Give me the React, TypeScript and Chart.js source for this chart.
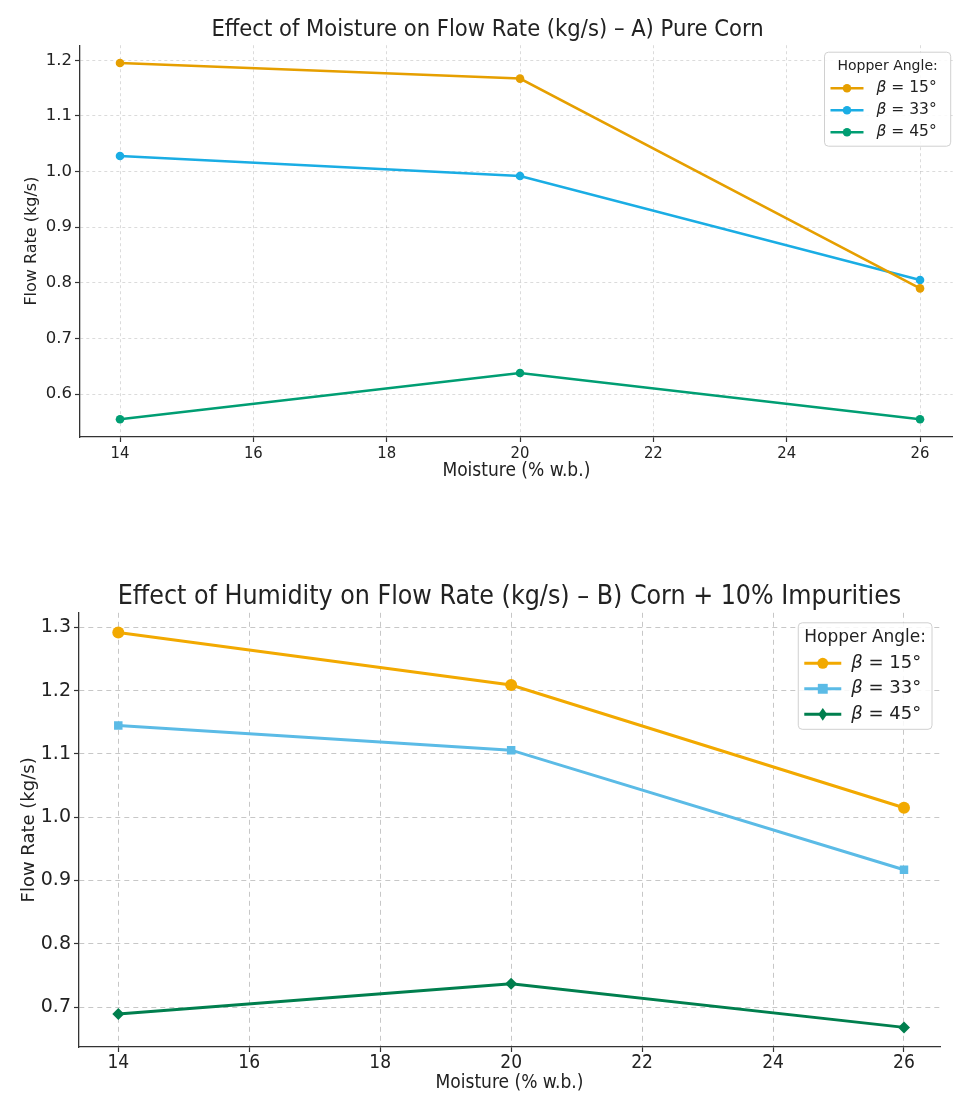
import React, { useEffect, useRef } from 'react';
import { Chart, registerables } from 'chart.js';

Chart.register(...registerables);

// ---------- data ----------
const MOISTURE = [14, 20, 26];
const X_TICKS = [14, 16, 18, 20, 22, 24, 26];
const SERIES_LABELS = ['β = 15°', 'β = 33°', 'β = 45°'];
const LEGEND_TITLE = 'Hopper Angle:';
const X_TITLE = 'Moisture (% w.b.)';
const Y_TITLE = 'Flow Rate (kg/s)';

const TITLE_A = 'Effect of Moisture on Flow Rate (kg/s) – A) Pure Corn';
const A_BETA15 = [1.195, 1.167, 0.79];
const A_BETA33 = [1.028, 0.992, 0.805];
const A_BETA45 = [0.555, 0.638, 0.555];
const A_Y_TICKS = [0.6, 0.7, 0.8, 0.9, 1.0, 1.1, 1.2];

const TITLE_B = 'Effect of Humidity on Flow Rate (kg/s) – B) Corn + 10% Impurities';
const B_BETA15 = [1.292, 1.209, 1.015];
const B_BETA33 = [1.145, 1.106, 0.917];
const B_BETA45 = [0.689, 0.737, 0.668];
const B_Y_TICKS = [0.7, 0.8, 0.9, 1.0, 1.1, 1.2, 1.3];

// ---------- styles ----------
const FONT = "'DejaVu Sans', 'Noto Sans', sans-serif";
const FONT_COND = "'DejaVu Sans Condensed', 'Liberation Sans Narrow', 'DejaVu Sans', sans-serif";
const A_COLORS = ['#E69F00', '#1AADE4', '#009E73'];
const B_COLORS = ['#F2A900', '#5BBBE6', '#007F4E'];
const B_POINTS = ['circle', 'rect', 'rectRot'];

function drawMarker(ctx: CanvasRenderingContext2D, style: string, r: number, x: number, y: number, color: string) {
  ctx.save();
  ctx.fillStyle = color;
  ctx.beginPath();
  if (style === 'rect') {
    ctx.rect(x - r * 0.9, y - r * 0.9, r * 1.8, r * 1.8);
  } else if (style === 'rectRot') {
    ctx.moveTo(x, y - r * 1.15);
    ctx.lineTo(x + r * 0.8, y);
    ctx.lineTo(x, y + r * 1.15);
    ctx.lineTo(x - r * 0.8, y);
    ctx.closePath();
  } else {
    ctx.arc(x, y, r, 0, Math.PI * 2);
  }
  ctx.fill();
  ctx.restore();
}

const boxLegend = {
  id: 'boxLegend',
  afterDatasetsDraw(chart: any, _args: any, opts: any) {
    if (!opts || !opts.show) return;
    const ctx: CanvasRenderingContext2D = chart.ctx;
    const { titleSize, itemSize, rowH, lineLen, gap, padX, padY, marginTop, marginRight, markerR } = opts;
    const ds = chart.data.datasets;
    ctx.save();
    ctx.font = `${titleSize}px ${FONT}`;
    const titleW = ctx.measureText(opts.title).width;
    const widths = ds.map((d: any) => {
      const lab: string = d.label;
      ctx.font = `italic ${itemSize}px ${FONT}`;
      const w1 = ctx.measureText(lab.slice(0, 1)).width;
      ctx.font = `${itemSize}px ${FONT}`;
      const w2 = ctx.measureText(lab.slice(1)).width;
      return w1 + w2;
    });
    const contentW = Math.max(titleW, lineLen + gap + Math.max(...widths));
    const boxW = contentW + padX * 2 + (opts.extraW || 0);
    const boxH = padY * 2 + rowH * (ds.length + 1);
    const x0 = chart.chartArea.right - marginRight - boxW;
    const y0 = chart.chartArea.top + marginTop;
    ctx.beginPath();
    (ctx as any).roundRect(x0, y0, boxW, boxH, 4);
    ctx.fillStyle = 'rgba(255,255,255,0.85)';
    ctx.fill();
    ctx.strokeStyle = '#d0d0d0';
    ctx.lineWidth = 1;
    ctx.stroke();

    ctx.fillStyle = '#222';
    ctx.textBaseline = 'middle';
    ctx.textAlign = 'center';
    ctx.font = `${titleSize}px ${FONT}`;
    ctx.fillText(opts.title, x0 + boxW / 2, y0 + padY + rowH / 2);

    ds.forEach((d: any, i: number) => {
      const cy = y0 + padY + rowH * (i + 1) + rowH / 2;
      const lx = x0 + padX;
      ctx.strokeStyle = d.borderColor;
      ctx.lineWidth = d.borderWidth;
      ctx.beginPath();
      ctx.moveTo(lx, cy);
      ctx.lineTo(lx + lineLen, cy);
      ctx.stroke();
      drawMarker(ctx, d.pointStyle, markerR, lx + lineLen / 2, cy, d.borderColor);
      const lab: string = d.label;
      ctx.textAlign = 'left';
      ctx.fillStyle = '#222';
      ctx.font = `italic ${itemSize}px ${FONT}`;
      const tx = lx + lineLen + gap;
      ctx.fillText(lab.slice(0, 1), tx, cy);
      const w1 = ctx.measureText(lab.slice(0, 1)).width;
      ctx.font = `${itemSize}px ${FONT}`;
      ctx.fillText(lab.slice(1), tx + w1, cy);
    });
    ctx.restore();
  },
};

Chart.register(boxLegend);

function makeConfig(s: any): any {
  const series = [s.v15, s.v33, s.v45];
  return {
    type: 'line',
    data: {
      datasets: series.map((vals: number[], i: number) => ({
        label: SERIES_LABELS[i],
        data: MOISTURE.map((m, j) => ({ x: m, y: vals[j] })),
        borderColor: s.colors[i],
        backgroundColor: s.colors[i],
        borderWidth: s.lineW,
        pointStyle: s.points[i],
        pointRadius: s.pointR,
        pointBorderWidth: 0,
        tension: 0,
      })),
    },
    options: {
      animation: false,
      responsive: false,
      devicePixelRatio: 1,
      layout: { padding: s.padding },
      plugins: {
        legend: { display: false },
        tooltip: { enabled: false },
        title: {
          display: true,
          text: s.title,
          color: '#222',
          fullSize: s.titleFull,
          font: { family: FONT_COND, size: s.titleSize, weight: 'normal' },
          padding: s.titlePad,
        },
        boxLegend: { show: true, title: LEGEND_TITLE, ...s.legend },
      },
      scales: {
        x: {
          type: 'linear',
          min: 13.4,
          max: s.xMax,
          afterBuildTicks: (sc: any) => { sc.ticks = X_TICKS.map((v) => ({ value: v })); },
          afterFit: (sc: any) => { sc.height = s.xAxisH; },
          ticks: { color: '#222', padding: s.xTickPad, font: { family: FONT_COND, size: s.xTickSize }, callback: (v: any) => String(v) },
          grid: { color: s.gridColor, tickBorderDash: [], tickColor: '#333', tickLength: 5, tickWidth: 1.2 },
          border: { display: true, color: '#333', width: 1.3, dash: s.dash },
          title: { display: true, text: X_TITLE, color: '#222', font: { family: FONT_COND, size: s.xTitleSize }, padding: s.xTitlePad },
        },
        y: {
          type: 'linear',
          min: s.yMin,
          max: s.yMax,
          afterBuildTicks: (sc: any) => { sc.ticks = s.yTicks.map((v: number) => ({ value: v })); },
          afterFit: (sc: any) => { sc.width = s.yAxisW; },
          ticks: { color: '#222', padding: 3, font: { family: FONT, size: s.yTickSize }, callback: (v: any) => Number(v).toFixed(1) },
          grid: { color: s.gridColor, tickBorderDash: [], tickColor: '#333', tickLength: 5, tickWidth: 1.2 },
          border: { display: true, color: '#333', width: 1.3, dash: s.dash },
          title: { display: true, text: Y_TITLE, color: '#222', font: { family: FONT, size: s.yTitleSize }, padding: s.yTitlePad },
        },
      },
    },
  };
}

const SPEC_A = {
  title: TITLE_A, v15: A_BETA15, v33: A_BETA33, v45: A_BETA45, yTicks: A_Y_TICKS,
  colors: A_COLORS, points: ['circle', 'circle', 'circle'], lineW: 2.5, pointR: 4.3,
  padding: { left: 18, right: 0, top: 0, bottom: 0 },
  titleFull: true, titleSize: 23.5, titlePad: { top: 16, bottom: 1 },
  xMax: 26.49, xAxisH: 60, xTickPad: 2, xTickSize: 16.5, xTitleSize: 19, xTitlePad: { top: 2, bottom: 15 },
  yMin: 0.523, yMax: 1.227, yAxisW: 62, yTickSize: 16.5, yTitleSize: 16, yTitlePad: { top: 4, bottom: 4 },
  gridColor: 'rgba(0,0,0,0.14)', dash: [3, 3],
  legend: { titleSize: 14, itemSize: 15.5, rowH: 22, lineLen: 33, gap: 13, padX: 6, padY: 3, marginTop: 7, marginRight: 2, markerR: 4.3, extraW: 8 },
};

const SPEC_B = {
  title: TITLE_B, v15: B_BETA15, v33: B_BETA33, v45: B_BETA45, yTicks: B_Y_TICKS,
  colors: B_COLORS, points: B_POINTS, lineW: 3, pointR: 6,
  padding: { left: 0, right: 17, top: 0, bottom: 0 },
  titleFull: false, titleSize: 26.5, titlePad: { top: 36, bottom: 0 },
  xMax: 26.55, xAxisH: 55, xTickPad: 0, xTickSize: 19, xTitleSize: 19, xTitlePad: { top: 2, bottom: 8 },
  yMin: 0.637, yMax: 1.323, yAxisW: 79, yTickSize: 19, yTitleSize: 18, yTitlePad: { top: 19, bottom: 4 },
  gridColor: 'rgba(0,0,0,0.22)', dash: [5, 4],
  legend: { titleSize: 17, itemSize: 18, rowH: 25.5, lineLen: 37, gap: 10, padX: 6, padY: 2.25, marginTop: 10, marginRight: 8, markerR: 5.5, extraW: 0 },
};

function ChartCanvas({ spec, width, height, top }: { spec: any; width: number; height: number; top: number }) {
  const ref = useRef<HTMLCanvasElement>(null);
  useEffect(() => {
    const chart = new Chart(ref.current as HTMLCanvasElement, makeConfig(spec));
    return () => chart.destroy();
  }, [spec]);
  return (
    <div style={{ position: 'absolute', left: 0, top, width, height }}>
      <canvas ref={ref} width={width} height={height} style={{ display: 'block', width, height }} />
    </div>
  );
}

export default function App() {
  return (
    <div style={{ position: 'absolute', left: 0, top: 0, width: 957, height: 1102, background: '#fff', overflow: 'hidden' }}>
      <ChartCanvas spec={SPEC_A} width={957} height={497} top={0} />
      <ChartCanvas spec={SPEC_B} width={957} height={557} top={545} />
    </div>
  );
}
